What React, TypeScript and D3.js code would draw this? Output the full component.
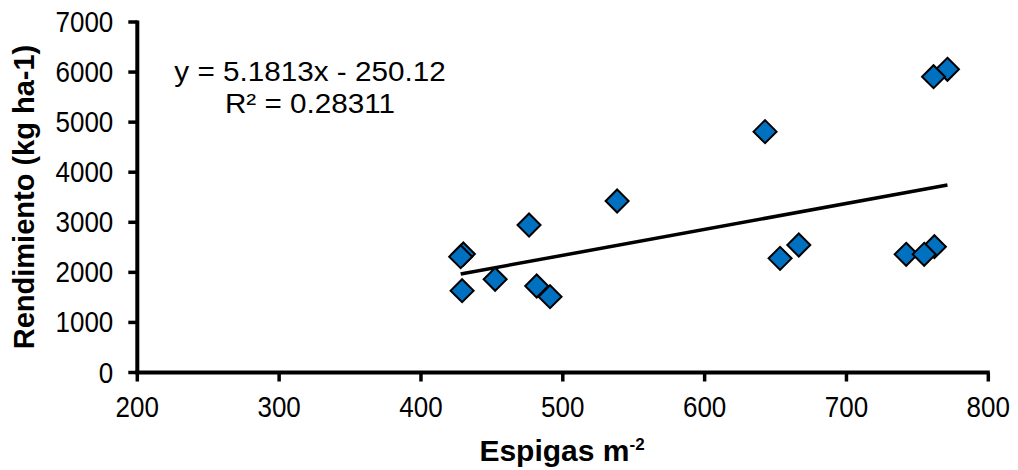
import React from "react";
import * as d3 from "d3";

// Spikes per square metre vs. grain yield
const espigas = [429.9, 428.0, 429.0, 452.3, 476.2, 481.6, 491.0, 538.3, 642.6, 653.2, 666.4, 762.0, 742.1, 754.8, 771.2, 761.4];
const rendimiento = [2367, 2313, 1634, 1861, 2946, 1728, 1514, 3425, 4810, 2280, 2546, 2513, 2360, 2360, 6055, 5908];

const xTicks = [200, 300, 400, 500, 600, 700, 800];
const yTicks = [0, 1000, 2000, 3000, 4000, 5000, 6000, 7000];

// Linear trend: y = slope * x + intercept
const slope = 5.1813;
const intercept = -250.12;
const rSquared = 0.28311;

const FONT = "'Liberation Sans', Arial, Helvetica, sans-serif";

export default function App() {
  const width = 1018;
  const height = 470;
  const x = d3.scaleLinear().domain([200, 800]).range([137.3, 988.3]);
  const y = d3.scaleLinear().domain([0, 7000]).range([372.5, 22]);

  const [xMin, xMax] = d3.extent(espigas) as [number, number];
  const trend = d3.line<number>().x((d) => x(d)).y((d) => y(slope * d + intercept));

  const diamond = (cx: number, cy: number, r: number) =>
    `M${cx},${cy - r}L${cx + r},${cy}L${cx},${cy + r}L${cx - r},${cy}Z`;

  const x0 = x(200);
  const y0 = y(0);

  return (
    <svg
      width={width}
      height={height}
      style={{ position: "absolute", left: 0, top: 0, background: "#fff" }}
      fontFamily={FONT}
    >
      {/* y axis */}
      <line x1={x0} x2={x0} y1={y(7000) - 1.5} y2={y0} stroke="#000" strokeWidth={4} />
      {yTicks.map((t) => (
        <g key={"y" + t}>
          <line x1={x0 - 9} x2={x0} y1={y(t)} y2={y(t)} stroke="#000" strokeWidth={3.5} />
          <text
            transform={`translate(${x0 - 24},${y(t)}) scale(1,1.12)`}
            textAnchor="end"
            dominantBaseline="central"
            fontSize={26}
            fill="#000"
          >
            {t}
          </text>
        </g>
      ))}
      {/* x axis */}
      <line x1={x0 - 2} x2={x(800) + 1.5} y1={y0} y2={y0} stroke="#000" strokeWidth={4} />
      {xTicks.map((t) => (
        <g key={"x" + t}>
          <line x1={x(t)} x2={x(t)} y1={y0} y2={y0 + 9} stroke="#000" strokeWidth={3.5} />
          <text
            transform={`translate(${x(t)},${417}) scale(1,1.12)`}
            textAnchor="middle"
            fontSize={26}
            fill="#000"
          >
            {t}
          </text>
        </g>
      ))}

      {/* trend line */}
      <path d={trend([xMin, xMax]) ?? ""} fill="none" stroke="#000" strokeWidth={3.5} />

      {/* points */}
      {espigas.map((v, i) => (
        <path
          key={i}
          d={diamond(x(v), y(rendimiento[i]), 11.5)}
          fill="#0070C0"
          stroke="#000"
          strokeWidth={2}
          strokeLinejoin="miter"
        />
      ))}

      {/* equation */}
      <g transform="translate(310,0) scale(1.06,1)">
        <text x={0} y={81} textAnchor="middle" fontSize={28} fill="#000">
          {`y = ${slope}x - ${Math.abs(intercept)}`}
        </text>
        <text x={0} y={113} textAnchor="middle" fontSize={28} fill="#000">
          {`R² = ${rSquared}`}
        </text>
      </g>

      {/* axis titles */}
      <text x={562} y={461} textAnchor="middle" fontSize={30} fontWeight="bold" fill="#000">
        Espigas m<tspan fontSize={17} dy={-11}>-2</tspan>
      </text>
      <text
        transform={`translate(34,197) rotate(-90)`}
        textAnchor="middle"
        fontSize={29}
        fontWeight="bold"
        fill="#000"
      >
        Rendimiento (kg ha-1)
      </text>
    </svg>
  );
}
